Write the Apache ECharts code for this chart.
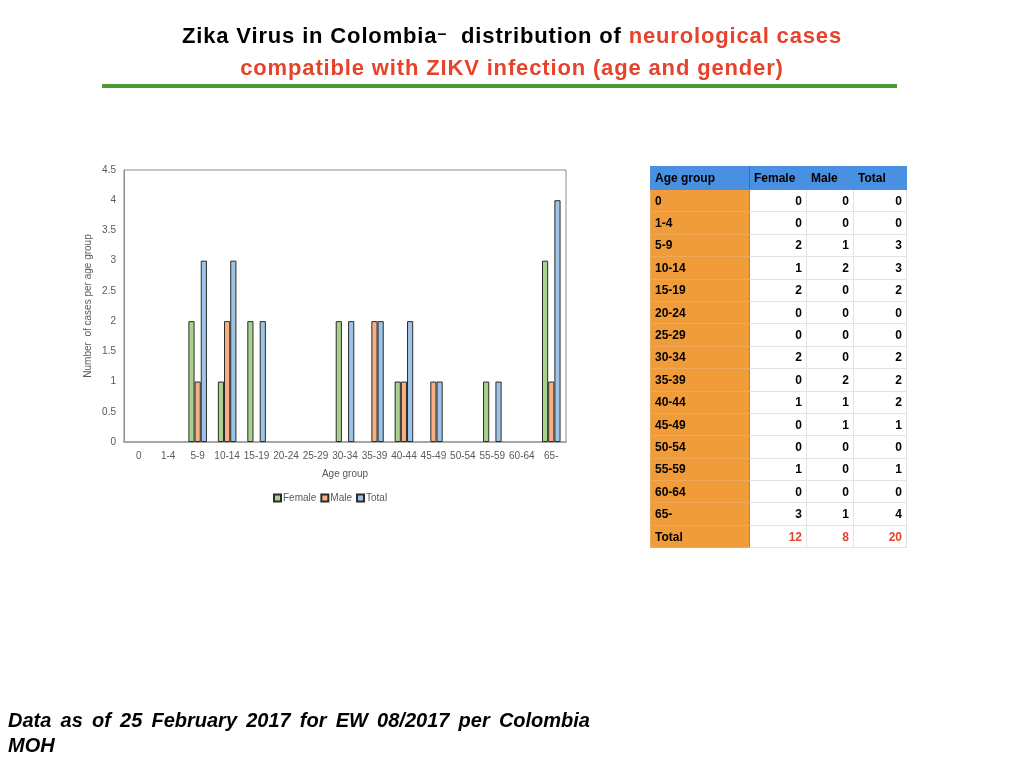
<!DOCTYPE html>
<html>
<head>
<meta charset="utf-8">
<script src="https://cdn.jsdelivr.net/npm/echarts@6/dist/echarts.min.js"></script>
<style>
  body { margin: 0; background: #fff; }
  #page { position: relative; width: 1024px; height: 768px; overflow: hidden; font-family: "Liberation Sans", Arial, sans-serif; }
  #chart { position: absolute; left: 0; top: 0; width: 1024px; height: 768px; }
  .title { position: absolute; left: 0; width: 1024px; text-align: center; font-family: "Liberation Sans", Arial, sans-serif; font-weight: bold; font-size: 22px; line-height: 26px; letter-spacing: 0.85px; }
  .red { color: #e5432b; }
  .dash { position: relative; top: -4px; font-size: 16px; }
  #rule { position: absolute; left: 102px; top: 84px; width: 795px; height: 4px; background: #4c9a31; }
  #tbl { position: absolute; left: 650px; top: 166px; border-collapse: collapse; font-size: 12px; font-weight: bold; z-index: 2; }
  #tbl td, #tbl th { border: 1px solid #e3e3e3; padding: 0 4px; height: 22.4px; box-sizing: border-box; }
  #tbl th { background: #4a90e2; text-align: left; height: 23px; border-color: #4a90e2; }
  #tbl td { text-align: right; }
  #tbl td.age { background: #f09c3b; text-align: left; border-color: #f0a95a; border-right: 1px solid #8a8a8a; }
  #tbl th.age { border-right: 1px solid #3a6ea8; }
  #tbl tr.tot td { color: #e5432b; }
  #tbl tr.tot td.age { color: #000; }
  #foot { position: absolute; left: 8px; top: 708px; width: 582px; font-size: 20px; line-height: 25px; font-weight: bold; font-style: italic; text-align: justify; }
</style>
</head>
<body>
<div id="page">
  <div id="chart"></div>
  <div class="title" style="top:23px">Zika Virus in Colombia<span class="dash">&#8211;</span>&nbsp; distribution of <span class="red">neurological cases</span></div>
  <div class="title red" style="top:55px">compatible with ZIKV infection (age and gender)</div>
  <div id="rule"></div>
  <table id="tbl"></table>
  <div id="foot">Data as of 25 February 2017 for EW 08/2017 per Colombia MOH</div>
</div>
<script>
var ageGroups = ['0', '1-4', '5-9', '10-14', '15-19', '20-24', '25-29', '30-34', '35-39', '40-44', '45-49', '50-54', '55-59', '60-64', '65-'];
var female = [0, 0, 2, 1, 2, 0, 0, 2, 0, 1, 0, 0, 1, 0, 3];
var male = [0, 0, 1, 2, 0, 0, 0, 0, 2, 1, 1, 0, 0, 0, 1];
var total = [0, 0, 3, 3, 2, 0, 0, 2, 2, 2, 1, 0, 1, 0, 4];
var seriesNames = ['Female', 'Male', 'Total'];
var yTicks = [0, 0.5, 1, 1.5, 2, 2.5, 3, 3.5, 4, 4.5];

function sum(arr) {
    return arr.reduce(function (a, b) { return a + b; }, 0);
}

function buildTable() {
    var t = document.getElementById('tbl');
    var widths = [99, 57, 47, 53];
    var html = '<tr><th class="age" style="width:' + widths[0] + 'px">Age group</th>';
    for (var i = 0; i < seriesNames.length; i++) {
        html += '<th style="width:' + widths[i + 1] + 'px">' + seriesNames[i] + '</th>';
    }
    html += '</tr>';
    for (var j = 0; j < ageGroups.length; j++) {
        html += '<tr><td class="age">' + ageGroups[j] + '</td><td>' + female[j] + '</td><td>' + male[j] + '</td><td>' + total[j] + '</td></tr>';
    }
    html += '<tr class="tot"><td class="age">Total</td><td>' + sum(female) + '</td><td>' + sum(male) + '</td><td>' + sum(total) + '</td></tr>';
    t.innerHTML = html;
}

function noZero(arr) {
    return arr.map(function (v) { return v === 0 ? null : v; });
}

function chart() {
    var myChart = echarts.init(document.getElementById('chart'));
    var txt = { color: '#595959', fontSize: 10, fontFamily: 'Liberation Sans, Arial, sans-serif' };
    var colors = ['#a9d18e', '#f4b183', '#9dc3e6'];
    var values = [female, male, total];
    var series = [];
    for (var i = 0; i < seriesNames.length; i++) {
        series.push({
            name: seriesNames[i],
            type: 'bar',
            barGap: '0%',
            barCategoryGap: '37%',
            data: noZero(values[i]),
            itemStyle: { color: colors[i], borderColor: '#2b2b2b', borderWidth: 1 }
        });
    }
    var option = {
        animation: false,
        grid: { left: 124, top: 170, width: 442, height: 272, show: true, borderColor: '#8c8c8c', borderWidth: 1, backgroundColor: 'transparent' },
        legend: {
            left: 268, top: 488,
            itemWidth: 7, itemHeight: 7, itemGap: 4,
            icon: 'rect',
            textStyle: { color: '#595959', fontSize: 10, padding: [0, 0, 0, -3] },
            data: seriesNames
        },
        xAxis: {
            type: 'category',
            data: ageGroups,
            name: 'Age group',
            nameLocation: 'middle',
            nameGap: 27,
            nameTextStyle: txt,
            axisLine: { lineStyle: { color: '#a6a6a6', width: 2 } },
            axisTick: { show: false },
            axisLabel: Object.assign({ interval: 0, margin: 9 }, txt)
        },
        yAxis: {
            type: 'value',
            min: yTicks[0],
            max: yTicks[yTicks.length - 1],
            interval: yTicks[1] - yTicks[0],
            name: 'Number  of cases per age group',
            nameLocation: 'middle',
            nameGap: 31,
            nameTextStyle: txt,
            axisLine: { show: true, lineStyle: { color: '#8c8c8c' } },
            axisTick: { show: false },
            splitLine: { show: false },
            axisLabel: Object.assign({ margin: 8 }, txt)
        },
        series: series
    };
    myChart.setOption(option);
}

buildTable();
chart();
</script>
</body>
</html>
